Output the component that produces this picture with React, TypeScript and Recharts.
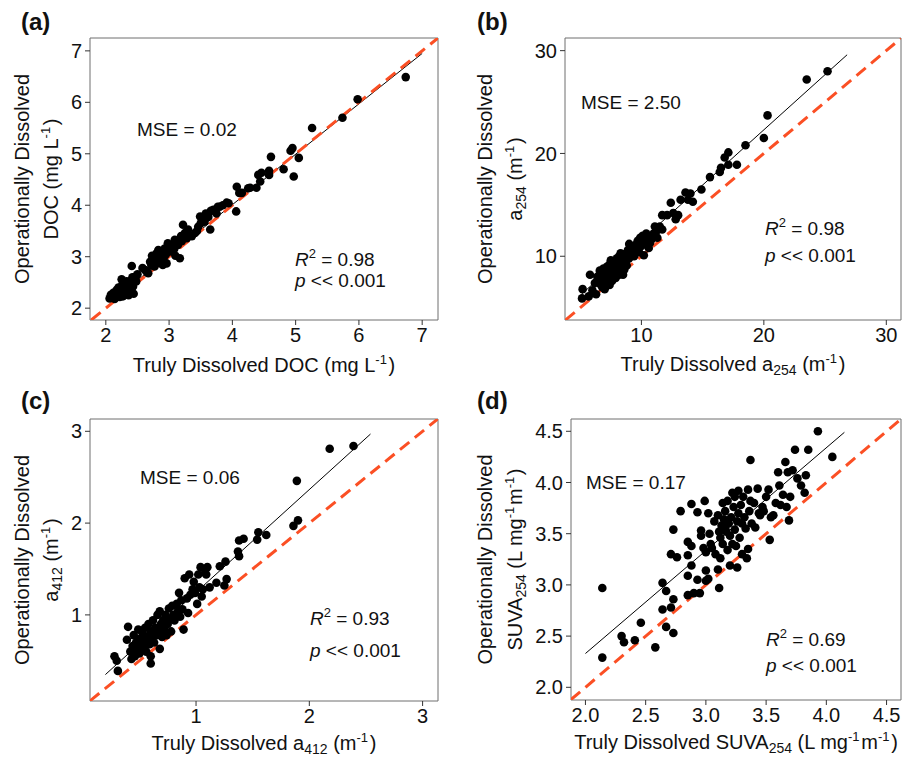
import React from "react";
import {
  ScatterChart,
  Scatter,
  XAxis,
  YAxis,
  ReferenceLine,
  ReferenceArea,
} from "recharts";

const FONT = "'Liberation Sans', Arial, Helvetica, sans-serif";
const RED = "#fb4f24";
const INK = "#111";

// (a) DOC, mg/L : [truly, operationally]
const docPoints: [number, number][] = [
  [2.06, 2.19], [2.08, 2.26], [2.1, 2.21], [2.12, 2.3], [2.14, 2.18], [2.16, 2.24],
  [2.17, 2.35], [2.19, 2.28], [2.2, 2.4], [2.22, 2.22], [2.23, 2.33], [2.25, 2.56],
  [2.26, 2.45], [2.27, 2.23], [2.29, 2.38], [2.3, 2.5], [2.31, 2.29], [2.33, 2.52],
  [2.34, 2.42], [2.35, 2.32], [2.36, 2.25], [2.38, 2.48], [2.4, 2.36], [2.41, 2.82],
  [2.42, 2.6], [2.43, 2.42], [2.44, 2.28], [2.46, 2.61], [2.48, 2.52], [2.5, 2.66],
  [2.58, 2.78], [2.62, 2.74], [2.65, 2.7], [2.67, 2.68], [2.7, 2.9], [2.72, 2.83],
  [2.73, 3.02], [2.75, 2.95], [2.77, 3.0], [2.77, 2.81], [2.79, 2.92], [2.8, 3.06],
  [2.82, 2.95], [2.83, 3.13], [2.85, 3.03], [2.86, 2.88], [2.88, 3.07], [2.9, 2.84],
  [2.9, 3.1], [2.92, 3.0], [2.93, 3.16], [2.95, 3.05], [2.96, 2.87], [2.98, 3.26],
  [3.0, 3.12], [3.01, 3.18], [3.03, 3.1], [3.05, 3.2], [3.06, 3.23], [3.08, 3.15],
  [3.09, 3.33], [3.1, 3.02], [3.12, 3.25], [3.14, 3.23], [3.15, 3.3], [3.17, 2.97],
  [3.19, 3.4], [3.2, 3.3], [3.22, 3.62], [3.25, 3.46], [3.28, 3.36], [3.3, 3.53],
  [3.36, 3.4], [3.41, 3.46], [3.44, 3.5], [3.46, 3.58], [3.49, 3.78], [3.5, 3.65],
  [3.53, 3.72], [3.56, 3.68], [3.58, 3.84], [3.62, 3.77], [3.65, 3.53], [3.66, 3.89],
  [3.7, 3.91], [3.75, 3.84], [3.77, 3.97], [3.8, 3.97], [3.85, 4.0], [3.91, 4.05],
  [3.94, 4.04], [4.06, 3.88], [4.07, 4.36], [4.11, 4.24], [4.15, 4.24], [4.25, 4.33],
  [4.28, 4.34], [4.38, 4.34], [4.41, 4.59], [4.44, 4.46], [4.46, 4.63], [4.58, 4.67],
  [4.58, 4.59], [4.61, 4.94], [4.81, 4.7], [4.92, 5.06], [4.95, 5.11], [4.97, 4.56],
  [5.05, 4.92], [5.26, 5.5], [5.74, 5.7], [5.98, 6.06], [6.74, 6.49],
];

// (b) a254, 1/m
const a254Points: [number, number][] = [
  [5.2, 6.8], [5.15, 5.9], [5.7, 6.1], [5.8, 8.2], [6.0, 6.7], [6.2, 7.4], [6.3, 6.3],
  [6.4, 8.0], [6.5, 7.6], [6.6, 8.6], [6.7, 7.2], [6.8, 8.0], [6.8, 7.0], [6.9, 8.8],
  [7.0, 7.4], [7.0, 6.8], [7.1, 8.3], [7.1, 7.6], [7.2, 9.0], [7.2, 7.8], [7.3, 8.5],
  [7.3, 8.0], [7.4, 7.2], [7.4, 9.2], [7.5, 8.1], [7.5, 9.6], [7.6, 8.8], [7.6, 7.6],
  [7.7, 9.5], [7.8, 8.4], [7.8, 9.0], [7.9, 7.9], [7.9, 9.2], [8.0, 9.8], [8.0, 8.6],
  [8.1, 9.3], [8.1, 8.8], [8.2, 10.0], [8.2, 8.2], [8.3, 9.0], [8.3, 10.3], [8.4, 9.6],
  [8.5, 8.2], [8.5, 10.2], [8.6, 9.4], [8.6, 8.7], [8.7, 10.0], [8.8, 9.1], [8.8, 9.6],
  [8.9, 10.6], [9.0, 11.2], [9.0, 9.8], [9.1, 10.1], [9.2, 10.4], [9.3, 11.0], [9.4, 10.0],
  [9.5, 10.7], [9.6, 11.2], [9.7, 11.5], [9.8, 10.4], [9.9, 11.8], [10.0, 11.0],
  [10.1, 12.0], [10.2, 10.1], [10.3, 11.4], [10.4, 12.2], [10.5, 11.8], [10.6, 10.8],
  [10.7, 11.3], [10.8, 11.6], [11.0, 12.2], [11.1, 12.9], [11.2, 12.4], [11.3, 11.8],
  [11.5, 12.9], [11.7, 12.6], [11.7, 14.0], [12.1, 14.0], [12.4, 15.2], [12.6, 14.2],
  [12.8, 13.6], [13.0, 14.0], [13.2, 15.5], [13.6, 16.2], [13.8, 15.5], [14.0, 16.1],
  [14.2, 15.3], [14.9, 16.5], [15.6, 17.7], [16.4, 18.2], [16.5, 18.6], [16.8, 19.6],
  [17.1, 20.1], [17.1, 18.9], [17.8, 18.9], [18.5, 20.8], [20.0, 21.5], [20.3, 23.7],
  [23.5, 27.2], [25.2, 28.0],
];

// (c) a412, 1/m
const a412Points: [number, number][] = [
  [0.31, 0.39], [0.28, 0.55], [0.3, 0.5], [0.39, 0.73], [0.4, 0.87], [0.42, 0.6],
  [0.43, 0.52], [0.44, 0.66], [0.45, 0.78], [0.46, 0.55], [0.47, 0.7], [0.48, 0.62],
  [0.49, 0.84], [0.5, 0.74], [0.5, 0.58], [0.52, 0.68], [0.53, 0.8], [0.54, 0.64],
  [0.55, 0.86], [0.55, 0.72], [0.56, 0.6], [0.57, 0.76], [0.58, 0.9], [0.59, 0.68],
  [0.6, 0.47], [0.6, 0.55], [0.6, 0.82], [0.61, 0.74], [0.62, 0.94], [0.63, 0.7],
  [0.64, 0.86], [0.65, 0.78], [0.66, 1.0], [0.67, 0.82], [0.68, 0.63], [0.68, 1.04],
  [0.69, 0.9], [0.7, 0.76], [0.71, 0.94], [0.72, 0.84], [0.73, 1.0], [0.74, 0.78],
  [0.75, 0.9], [0.76, 1.07], [0.77, 0.96], [0.78, 0.82], [0.79, 1.1], [0.8, 1.0],
  [0.81, 0.94], [0.83, 1.12], [0.84, 1.04], [0.85, 1.24], [0.86, 0.98], [0.87, 1.16],
  [0.88, 1.06], [0.89, 0.84], [0.9, 1.4], [0.92, 1.18], [0.93, 1.02], [0.94, 1.44],
  [0.95, 1.22], [0.97, 1.28], [0.98, 1.36], [0.99, 1.24], [1.01, 1.12], [1.02, 1.44],
  [1.03, 1.3], [1.04, 1.52], [1.05, 1.2], [1.06, 1.28], [1.08, 1.46], [1.09, 1.44],
  [1.1, 1.52], [1.12, 1.3], [1.18, 1.35], [1.21, 1.53], [1.25, 1.32], [1.26, 1.58],
  [1.27, 1.39], [1.37, 1.69], [1.38, 1.64], [1.38, 1.81], [1.42, 1.83], [1.54, 1.82],
  [1.55, 1.9], [1.62, 1.87], [1.86, 1.97], [1.9, 2.03], [1.89, 2.46], [2.18, 2.81],
  [2.39, 2.84],
];

// (d) SUVA254, L/mg/m
const suvaPoints: [number, number][] = [
  [2.14, 2.97], [2.14, 2.29], [2.3, 2.5], [2.32, 2.44], [2.41, 2.46], [2.46, 2.63],
  [2.58, 2.39], [2.64, 3.02], [2.64, 2.76], [2.67, 2.94], [2.67, 2.59], [2.71, 2.78],
  [2.73, 2.86], [2.73, 2.53], [2.73, 3.54], [2.71, 3.3], [2.76, 3.27], [2.79, 3.72],
  [2.85, 3.42], [2.88, 3.38], [2.85, 3.29], [2.88, 3.19], [2.85, 3.09], [2.85, 2.9],
  [2.9, 2.92], [2.93, 3.05], [2.95, 2.92], [2.88, 3.79], [2.93, 3.71], [2.96, 3.53],
  [2.96, 3.48], [2.99, 3.82], [2.98, 3.36], [3.0, 3.14], [3.0, 3.04], [3.02, 3.06],
  [3.0, 3.32], [3.02, 3.7], [3.03, 3.5], [3.04, 3.4], [3.05, 3.36], [3.07, 3.62],
  [3.08, 3.3], [3.1, 3.68], [3.1, 3.15], [3.11, 2.97], [3.11, 3.52], [3.12, 3.46],
  [3.12, 3.26], [3.13, 3.58], [3.14, 3.8], [3.14, 3.4], [3.15, 3.64], [3.16, 3.56],
  [3.16, 3.72], [3.17, 3.52], [3.18, 3.34], [3.18, 3.82], [3.19, 3.6], [3.2, 3.19],
  [3.2, 3.48], [3.21, 3.66], [3.22, 3.9], [3.22, 3.4], [3.23, 3.76], [3.24, 3.54],
  [3.24, 3.86], [3.25, 3.38], [3.26, 3.62], [3.26, 3.17], [3.27, 3.92], [3.27, 3.7],
  [3.28, 3.46], [3.29, 3.78], [3.3, 3.6], [3.3, 3.3], [3.31, 3.86], [3.32, 3.66],
  [3.33, 3.55], [3.34, 3.26], [3.35, 3.93], [3.35, 3.35], [3.36, 3.72], [3.37, 3.82],
  [3.37, 4.22], [3.38, 3.6], [3.4, 3.8], [3.41, 3.56], [3.43, 3.94], [3.44, 3.7],
  [3.45, 3.68], [3.47, 3.76], [3.48, 3.72], [3.5, 3.86], [3.52, 3.93], [3.53, 3.44],
  [3.54, 3.66], [3.56, 3.68], [3.58, 3.8], [3.6, 4.1], [3.61, 3.97], [3.62, 3.78],
  [3.64, 3.88], [3.66, 4.2], [3.67, 3.76], [3.68, 4.1], [3.69, 3.63], [3.7, 3.86],
  [3.72, 4.12], [3.74, 4.32], [3.76, 4.04], [3.79, 3.97], [3.82, 3.9], [3.83, 4.07],
  [3.85, 4.32], [3.93, 4.5], [4.05, 4.25],
];

// regression line end points
const docFit = [[2.1, 2.15], [7.0, 6.95]];
const a254Fit = [[5.1, 6.3], [26.8, 29.6]];
const a412Fit = [[0.2, 0.35], [2.54, 2.97]];
const suvaFit = [[2.0, 2.33], [4.15, 4.49]];

const docTicks = [2, 3, 4, 5, 6, 7];
const a254Ticks = [10, 20, 30];
const a412Ticks = [1, 2, 3];
const suvaTicks = [2.0, 2.5, 3.0, 3.5, 4.0, 4.5];

const mseLabels = ["MSE = 0.02", "MSE = 2.50", "MSE = 0.06", "MSE = 0.17"];
const r2Labels = ["0.98", "0.98", "0.93", "0.69"];

const Dot = (p: any) => <circle cx={p.cx} cy={p.cy} r={4.3} fill="#000" />;

const sub = (t: string) => [
  <tspan key="s" fontSize={14} dy={4}>{t}</tspan>,
  <tspan key="e" dy={-4}>{" "}</tspan>,
];
const sup = (t: string, k: string) => [
  <tspan key={k + "a"} fontSize={13} dy={-8}>{t}</tspan>,
  <tspan key={k + "b"} dy={8}>{"\u200A"}</tspan>,
];

type PanelProps = {
  left: number;
  top: number;
  pts: [number, number][];
  fit: number[][];
  xDomain: [number, number];
  yDomain: [number, number];
  ticks: number[];
  fmt?: (v: number) => string;
  m: { top: number; right: number; left: number; bottom: number };
  xTitle: React.ReactNode;
  xBase: number;
  yTitle2: React.ReactNode;
  yBase: [number, number];
};

function Panel(props: PanelProps) {
  const { pts, fit, xDomain, yDomain, ticks, fmt, m } = props;
  const data = pts.map(([x, y]) => ({ x, y }));
  const lo = Math.max(xDomain[0], yDomain[0]);
  const hi = Math.min(xDomain[1], yDomain[1]);
  const tickStyle = { fontSize: 20, fill: INK, fontFamily: FONT };
  return (
    <div style={{ position: "absolute", left: props.left, top: props.top }}>
      <ScatterChart
        width={458}
        height={379}
        margin={{ top: m.top, right: m.right, left: 0, bottom: 0 }}
      >
        <XAxis
          type="number"
          dataKey="x"
          domain={xDomain}
          ticks={ticks}
          interval={0}
          allowDataOverflow
          axisLine={false}
          tickLine={{ stroke: "#333" }}
          tickSize={5}
          tickMargin={3}
          height={m.bottom}
          tick={tickStyle}
          tickFormatter={fmt}
          label={{
            content: (lp: any) => {
              const vb = lp.viewBox;
              return (
                <text
                  x={vb.x + vb.width / 2}
                  y={vb.y + props.xBase}
                  textAnchor="middle"
                  fontSize={20}
                  fontFamily={FONT}
                  fill={INK}
                >
                  {props.xTitle}
                </text>
              );
            },
          }}
        />
        <YAxis
          type="number"
          dataKey="y"
          domain={yDomain}
          ticks={ticks}
          interval={0}
          allowDataOverflow
          axisLine={false}
          tickLine={{ stroke: "#333" }}
          tickSize={5}
          tickMargin={3}
          width={m.left}
          tick={tickStyle}
          tickFormatter={fmt}
          label={{
            content: (lp: any) => {
              const vb = lp.viewBox;
              const cy = vb.y + vb.height / 2;
              return (
                <g fontSize={20} fontFamily={FONT} fill={INK}>
                  <text
                    x={props.yBase[0]}
                    y={cy}
                    textAnchor="middle"
                    transform={`rotate(-90 ${props.yBase[0]} ${cy})`}
                  >
                    Operationally Dissolved
                  </text>
                  <text
                    x={props.yBase[1]}
                    y={cy}
                    textAnchor="middle"
                    transform={`rotate(-90 ${props.yBase[1]} ${cy})`}
                  >
                    {props.yTitle2}
                  </text>
                </g>
              );
            },
          }}
        />
        <ReferenceArea
          x1={xDomain[0]}
          x2={xDomain[1]}
          y1={yDomain[0]}
          y2={yDomain[1]}
          fill="none"
          stroke="#6f6f6f"
          strokeWidth={1}
          ifOverflow="visible"
        />
        <Scatter data={data} shape={Dot} isAnimationActive={false} />
        <ReferenceLine
          segment={[
            { x: fit[0][0], y: fit[0][1] },
            { x: fit[1][0], y: fit[1][1] },
          ]}
          stroke="#000"
          strokeWidth={1}
          ifOverflow="hidden"
        />
        <ReferenceLine
          segment={[
            { x: lo, y: lo },
            { x: hi, y: hi },
          ]}
          stroke={RED}
          strokeWidth={3}
          strokeDasharray="12 7"
          ifOverflow="hidden"
        />
      </ScatterChart>
    </div>
  );
}

function Notes() {
  const letters = [
    { t: "(a)", x: 21, y: 30 },
    { t: "(b)", x: 477, y: 30 },
    { t: "(c)", x: 21, y: 409 },
    { t: "(d)", x: 477, y: 409 },
  ];
  const mse = [
    { x: 137, y: 136 },
    { x: 581, y: 109 },
    { x: 140, y: 484 },
    { x: 586, y: 489 },
  ];
  const r2 = [
    { x: 295, y: 266, y2: 287 },
    { x: 765, y: 235, y2: 262 },
    { x: 310, y: 625, y2: 657 },
    { x: 766, y: 646, y2: 672 },
  ];
  return (
    <svg
      width={916}
      height={758}
      style={{ position: "absolute", left: 0, top: 0, pointerEvents: "none" }}
      fontFamily={FONT}
      fill={INK}
    >
      {letters.map((l) => (
        <text key={l.t} x={l.x} y={l.y} fontSize={24} fontWeight="bold">
          {l.t}
        </text>
      ))}
      {mse.map((p, i) => (
        <text key={"m" + i} x={p.x} y={p.y} fontSize={19}>
          {mseLabels[i]}
        </text>
      ))}
      {r2.map((p, i) => (
        <g key={"r" + i} fontSize={19}>
          <text x={p.x} y={p.y}>
            <tspan fontStyle="italic">R</tspan>
            <tspan fontSize={13} dy={-8}>2</tspan>
            <tspan dy={8}>{" = " + r2Labels[i]}</tspan>
          </text>
          <text x={p.x} y={p.y2}>
            <tspan fontStyle="italic">p</tspan>
            <tspan>{" << 0.001"}</tspan>
          </text>
        </g>
      ))}
    </svg>
  );
}

export default function App() {
  return (
    <div
      style={{
        position: "absolute",
        left: 0,
        top: 0,
        width: 916,
        height: 758,
        background: "#fff",
      }}
    >
      <Panel
        left={0}
        top={0}
        pts={docPoints}
        fit={docFit}
        xDomain={[1.75, 7.25]}
        yDomain={[1.77, 7.25]}
        ticks={docTicks}
        m={{ top: 38, right: 20, left: 90, bottom: 59 }}
        xBase={52}
        yBase={[29, 58]}
        xTitle={[
          <tspan key="a">Truly Dissolved DOC (mg L</tspan>,
          ...sup("-1", "u"),
          <tspan key="z">)</tspan>,
        ]}
        yTitle2={[
          <tspan key="a">DOC (mg L</tspan>,
          ...sup("-1", "u"),
          <tspan key="z">)</tspan>,
        ]}
      />
      <Panel
        left={458}
        top={0}
        pts={a254Points}
        fit={a254Fit}
        xDomain={[3.76, 31.2]}
        yDomain={[3.8, 31.23]}
        ticks={a254Ticks}
        m={{ top: 38, right: 15, left: 107, bottom: 59 }}
        xBase={51}
        yBase={[34, 64]}
        xTitle={[
          <tspan key="a">Truly Dissolved a</tspan>,
          ...sub("254"),
          <tspan key="b">(m</tspan>,
          ...sup("-1", "u"),
          <tspan key="z">)</tspan>,
        ]}
        yTitle2={[
          <tspan key="a">a</tspan>,
          ...sub("254"),
          <tspan key="b">(m</tspan>,
          ...sup("-1", "u"),
          <tspan key="z">)</tspan>,
        ]}
      />
      <Panel
        left={0}
        top={379}
        pts={a412Points}
        fit={a412Fit}
        xDomain={[0.064, 3.136]}
        yDomain={[0.062, 3.134]}
        ticks={a412Ticks}
        m={{ top: 40, right: 20, left: 90, bottom: 57 }}
        xBase={49}
        yBase={[29, 58]}
        xTitle={[
          <tspan key="a">Truly Dissolved a</tspan>,
          ...sub("412"),
          <tspan key="b">(m</tspan>,
          ...sup("-1", "u"),
          <tspan key="z">)</tspan>,
        ]}
        yTitle2={[
          <tspan key="a">a</tspan>,
          ...sub("412"),
          <tspan key="b">(m</tspan>,
          ...sup("-1", "u"),
          <tspan key="z">)</tspan>,
        ]}
      />
      <Panel
        left={458}
        top={379}
        pts={suvaPoints}
        fit={suvaFit}
        xDomain={[1.88, 4.62]}
        yDomain={[1.876, 4.62]}
        ticks={suvaTicks}
        fmt={(v) => v.toFixed(1)}
        m={{ top: 40, right: 15, left: 113, bottom: 58 }}
        xBase={49}
        yBase={[34, 64]}
        xTitle={[
          <tspan key="a">Truly Dissolved SUVA</tspan>,
          ...sub("254"),
          <tspan key="b">(L mg</tspan>,
          ...sup("-1", "u"),
          <tspan key="c">m</tspan>,
          ...sup("-1", "v"),
          <tspan key="z">)</tspan>,
        ]}
        yTitle2={[
          <tspan key="a">SUVA</tspan>,
          ...sub("254"),
          <tspan key="b">(L mg</tspan>,
          ...sup("-1", "u"),
          <tspan key="c">m</tspan>,
          ...sup("-1", "v"),
          <tspan key="z">)</tspan>,
        ]}
      />
      <Notes />
    </div>
  );
}
